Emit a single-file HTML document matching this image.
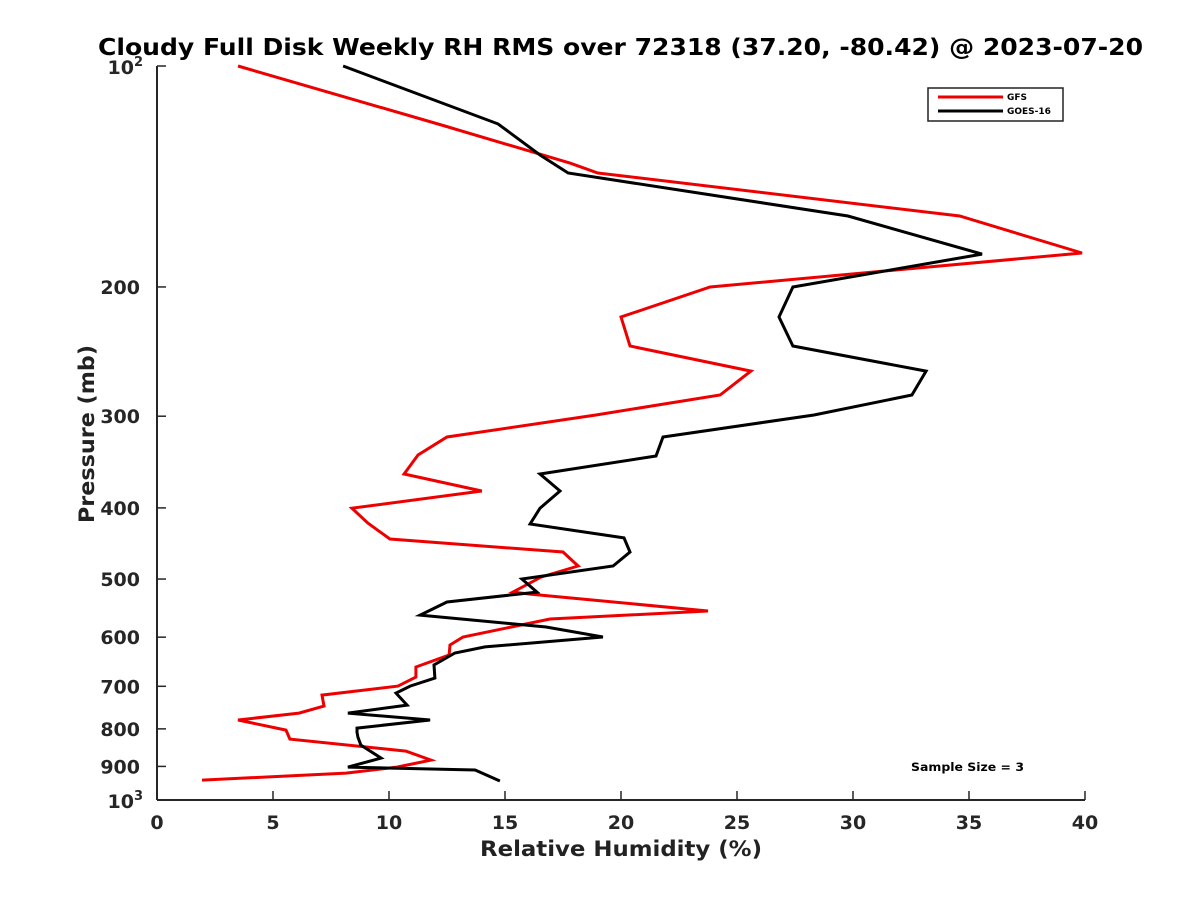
<!DOCTYPE html>
<html><head><meta charset="utf-8"><style>
body{margin:0;background:#fff;}
svg{font-family:"DejaVu Sans","Liberation Sans",sans-serif;font-weight:bold;}
</style></head><body>
<svg id="chart" width="1200" height="900" viewBox="0 0 1200 900">
<rect width="1200" height="900" fill="#fff"/>
<text x="98" y="55" font-size="23" textLength="1045" lengthAdjust="spacingAndGlyphs" fill="#000">Cloudy Full Disk Weekly RH RMS over 72318 (37.20, -80.42) @ 2023-07-20</text>
<g id="axes"></g>
<g id="series"></g>
<g>
<rect x="928" y="88" width="135" height="33" fill="#fff" stroke="#222" stroke-width="1.5"/>
<line x1="938" y1="97" x2="1003" y2="97" stroke="#e00" stroke-width="3"/>
<text x="1007" y="100" font-size="9">GFS</text>
<line x1="938" y1="111" x2="1003" y2="111" stroke="#000" stroke-width="3"/>
<text x="1007" y="114" font-size="9">GOES-16</text>
</g>
<text x="911" y="771" font-size="11.5" textLength="113" lengthAdjust="spacingAndGlyphs">Sample Size = 3</text>
<text x="480" y="856" font-size="21" textLength="282" lengthAdjust="spacingAndGlyphs" fill="#222">Relative Humidity (%)</text>
<text transform="translate(94,523) rotate(-90)" font-size="21" textLength="178" lengthAdjust="spacingAndGlyphs" fill="#222">Pressure (mb)</text>
</svg>
<script>
const xTicks=[0,5,10,15,20,25,30,35,40];
const yTicks=[200,300,400,500,600,700,800,900];
const gfsP=[100,120.7,135.6,139.9,160.1,179.8,200,219.8,240.7,260.4,280.7,298.9,320.2,338.8,359.6,379.3,400.3,419.5,441,459.3,480,497,520.9,524.2,552.7,566.8,599.7,614.9,634.5,658.9,680,699.5,719.5,744.8,761.3,778,803,826,857.7,882.3,901.8,919,939.4];
const gfsRH=[3.49,12.41,17.8,19.0,34.6,39.87,23.84,20.0,20.39,25.6,24.27,18.92,12.5,11.25,10.65,14.0,8.4,9.09,10.04,17.5,18.15,16.55,15.34,16.08,23.75,16.94,13.19,12.63,12.59,11.16,11.16,10.39,7.11,7.2,6.12,3.49,5.56,5.73,10.73,11.81,10.34,8.15,1.94];
const goesP=[100,119.9,132.2,139.9,160.1,180.4,200,219.8,240.7,260.4,280.7,298.9,320.2,339.9,359.6,379.3,400.3,420.7,439.5,459.3,480,500,520.9,537.4,559.8,581.2,599.7,618.7,630.6,654.6,682.2,699.5,715,742.5,761.3,778,798,808.2,821,841.9,876.9,901.8,910.3,942];
const goesRH=[8.02,14.7,16.51,17.72,29.78,35.56,27.41,26.81,27.41,33.15,32.54,28.32,21.81,21.51,16.51,17.37,16.51,16.08,20.13,20.39,19.66,15.73,16.38,12.5,11.34,16.77,19.22,14.14,12.84,11.94,11.98,10.91,10.3,10.78,8.23,11.77,8.62,8.62,8.66,8.79,9.66,8.23,13.71,14.78];
const X0=157,X1=1085,Y0=66,Y1=800;
const sx=v=>X0+(v/40)*(X1-X0);
const sy=p=>Y0+Math.log10(p/100)*(Y1-Y0);
const NS="http://www.w3.org/2000/svg";
function mk(t,a,parent){const e=document.createElementNS(NS,t);for(const k in a)e.setAttribute(k,a[k]);parent.appendChild(e);return e;}
const ax=document.getElementById('axes');
let l=mk('line',{x1:X0,y1:Y1,x2:X1,y2:Y1,stroke:'#262626','stroke-width':2},ax);


l=mk('line',{x1:X0,y1:Y0,x2:X0,y2:Y1,stroke:'#262626','stroke-width':2},ax);


xTicks.forEach(v=>{
 const x=sx(v);
 const t=mk('line',{x1:x,y1:Y1,x2:x,y2:Y1-9,stroke:'#262626','stroke-width':1.5},ax);
 
 
 const tx=mk('text',{x:x,y:Y1+29,'text-anchor':'middle','font-size':19,fill:'#262626'},ax);
 tx.textContent=v;
 
 
});
yTicks.concat([100,1000]).forEach(p=>{
 const y=sy(p);
 const t=mk('line',{x1:X0,y1:y,x2:X0+9,y2:y,stroke:'#262626','stroke-width':1.5},ax);
 
 
});
yTicks.forEach(p=>{
 const y=sy(p);
 const tx=mk('text',{x:X0-17,y:y+7,'text-anchor':'end','font-size':19,fill:'#262626'},ax);
 tx.textContent=p;
 
 
});
[[100,'2'],[1000,'3']].forEach(([p,e])=>{
 const y=sy(p);
 const tx=mk('text',{x:X0-14,y:y+8,'text-anchor':'end','font-size':19,fill:'#262626'},ax);
 tx.innerHTML='10<tspan dy="-8" font-size="13">'+e+'</tspan>';
 
 
});
const sg=document.getElementById('series');
function line(P,R,c,name){
 const pts=P.map((p,i)=>sx(R[i]).toFixed(1)+','+sy(p).toFixed(1)).join(' ');
 const e=mk('polyline',{points:pts,fill:'none',stroke:c,'stroke-width':3,'stroke-linejoin':'miter'},sg);
 
 
}
line(gfsP,gfsRH,'#e00','gfs-line');
line(goesP,goesRH,'#000','goes16-line');
</script>
</body></html>
